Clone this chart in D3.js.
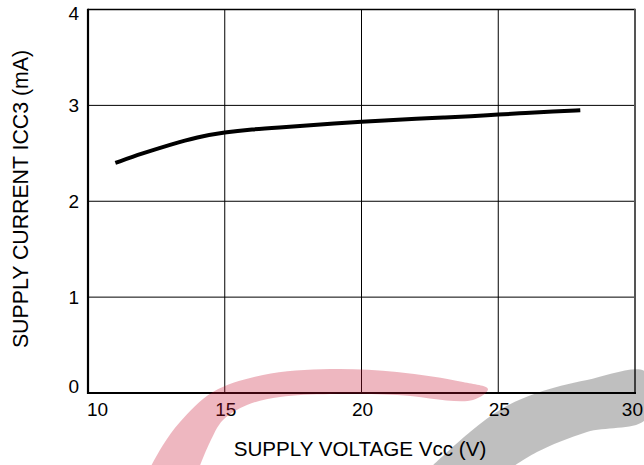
<!DOCTYPE html>
<html><head><meta charset="utf-8">
<script src="https://cdn.jsdelivr.net/npm/d3@7"></script>
<style>html,body{margin:0;padding:0;background:#fff;}svg{display:block;}</style>
</head><body>
<svg id="chart" width="644" height="465"></svg>
<script>
// ---- data ----
const voltage = [11, 12, 13, 14, 15, 16, 17, 18, 19, 20, 21, 22, 23, 24, 25, 26, 27, 28];
const current = [2.40, 2.50, 2.59, 2.67, 2.72, 2.75, 2.77, 2.79, 2.81, 2.83, 2.845, 2.86, 2.873, 2.887, 2.905, 2.92, 2.935, 2.95];
const xTicks = [10, 15, 20, 25, 30];
const yTicks = [0, 1, 2, 3, 4];
const xTitle = "SUPPLY VOLTAGE Vcc (V)";
const yTitle = "SUPPLY CURRENT ICC3 (mA)";

const svg = d3.select("#chart");
const x = d3.scaleLinear().domain([10, 30]).range([88, 635]);
const y = d3.scaleLinear().domain([0, 4]).range([393, 9.5]);
const font = "'Liberation Sans', Arial, Helvetica, sans-serif";

// grid
svg.append("g").selectAll("line").data(xTicks.slice(1, -1)).join("line")
  .attr("x1", d => x(d)).attr("x2", d => x(d)).attr("y1", y(0)).attr("y2", y(4))
  .attr("stroke", "#000").attr("stroke-width", 1);
svg.append("g").selectAll("line").data(yTicks.slice(1, -1)).join("line")
  .attr("x1", x(10)).attr("x2", x(30)).attr("y1", d => y(d)).attr("y2", d => y(d))
  .attr("stroke", "#000").attr("stroke-width", 1);

// frame
svg.append("line").attr("x1", x(10)).attr("x2", x(30)).attr("y1", y(4)).attr("y2", y(4)).attr("stroke", "#000").attr("stroke-width", 1.6);
svg.append("line").attr("x1", x(30)).attr("x2", x(30)).attr("y1", y(4) - 0.8).attr("y2", y(0)).attr("stroke", "#555").attr("stroke-width", 2);
svg.append("line").attr("x1", x(10)).attr("x2", x(30) + 1).attr("y1", y(0)).attr("y2", y(0)).attr("stroke", "#000").attr("stroke-width", 2);
svg.append("line").attr("x1", x(10)).attr("x2", x(10)).attr("y1", y(4) - 0.8).attr("y2", y(0) + 1).attr("stroke", "#000").attr("stroke-width", 2.2);

// curve
const pts = voltage.map((v, i) => [v, current[i]]);
svg.append("path").datum(pts)
  .attr("d", d3.line().x(d => x(d[0])).y(d => y(d[1])).curve(d3.curveBasis))
  .attr("fill", "none").attr("stroke", "#000").attr("stroke-width", 4).attr("stroke-linecap", "butt");

// x tick labels
svg.append("g").selectAll("text").data(xTicks).join("text")
  .attr("x", (d, i) => i === 0 ? x(d) - 1 : (i === xTicks.length - 1 ? 643 : x(d) + 1))
  .attr("y", 416)
  .attr("text-anchor", (d, i) => i === 0 ? "start" : (i === xTicks.length - 1 ? "end" : "middle"))
  .attr("font-family", font).attr("font-size", 19).attr("fill", "#000")
  .text(d => d);

// y tick labels
svg.append("g").selectAll("text").data(yTicks).join("text")
  .attr("x", 79)
  .attr("y", d => d === 0 ? y(d) : (d === 4 ? y(d) + 10 : y(d) + 6.5))
  .attr("text-anchor", "end")
  .attr("font-family", font).attr("font-size", 19).attr("fill", "#000")
  .text(d => d);

// axis titles
svg.append("text").attr("x", 360).attr("y", 456).attr("text-anchor", "middle")
  .attr("font-family", font).attr("font-size", 20.6).attr("fill", "#000").text(xTitle);
svg.append("text").attr("transform", "translate(27.5,199) rotate(-90)").attr("text-anchor", "middle")
  .attr("font-family", font).attr("font-size", 21.3).attr("fill", "#000").text(yTitle);

// watermark (decorative)
const wm = d3.line().curve(d3.curveCatmullRom);
const redBand = [[150, 468], [163, 445], [180, 422], [213, 392], [263, 375], [330, 369], [397, 372], [463, 382], [488, 389],
                 [473, 400], [397, 395], [330, 394], [280, 397], [247, 405], [223, 420], [210, 442], [199, 468]];
const grayBand = [[430, 468], [470, 432], [503, 408], [537, 393], [587, 380], [646, 372],
                  [646, 419], [587, 432], [537, 452], [511, 468]];
svg.append("path").attr("d", wm(redBand) + "Z").attr("fill", "#c8102e").attr("fill-opacity", 0.3);
svg.append("path").attr("d", wm(grayBand) + "Z").attr("fill", "#000").attr("fill-opacity", 0.25);
</script>
</body></html>
